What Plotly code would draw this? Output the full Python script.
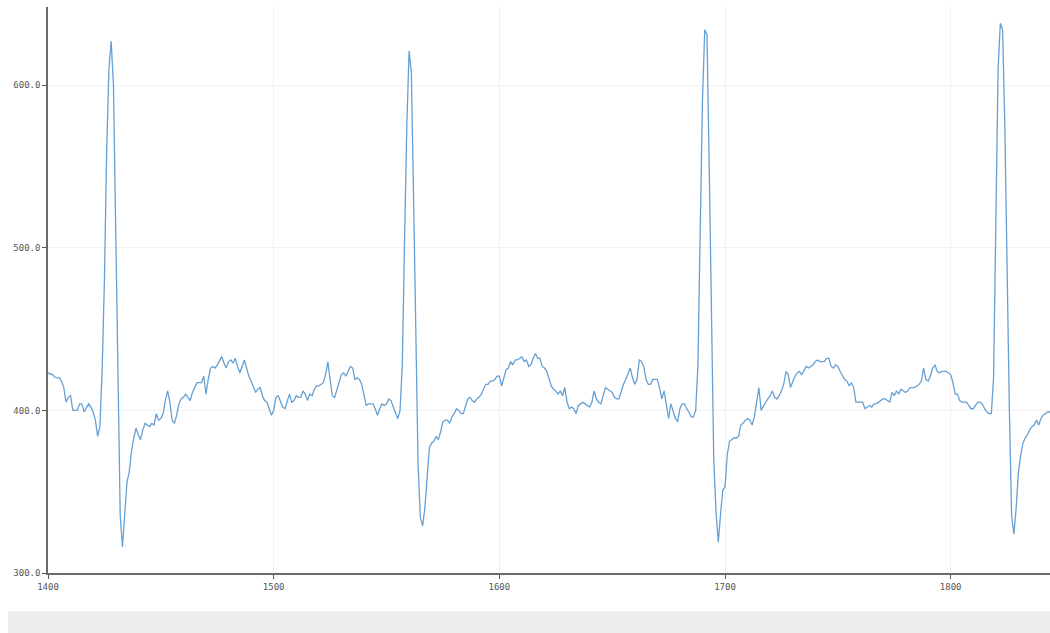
import plotly.graph_objects as go

# Sample index of the signal window
start_index = 1400

# Signal amplitude, one value per sample (1400 .. 1844)
signal = [
    423, 422.5, 422, 420.5, 420, 420, 418, 414, 405, 408,   # 1400
    409, 400, 400, 400, 404, 404, 399, 402, 404, 402,       # 1410
    399, 394, 384, 390, 425, 480, 560, 610, 627, 600,       # 1420
    510, 400, 335, 316, 335, 356, 362, 375, 383, 389,       # 1430
    385, 382, 388, 392, 391, 390, 392, 391, 398, 394,       # 1440
    395, 398, 406, 412, 405, 394, 392, 397, 404, 407,       # 1450
    408, 410, 408, 406, 411, 414, 417, 417, 417, 421,       # 1460
    410, 419, 426, 427, 426, 428, 431, 433, 429, 426,       # 1470
    430, 431, 429, 432, 427, 423, 427, 431, 426, 421,       # 1480
    418, 414, 411, 413, 414, 409, 406, 405, 401, 397,       # 1490
    400, 408, 409, 405, 402, 401, 406, 410, 405, 406,       # 1500
    409, 408, 408, 412, 410, 406, 410, 409, 413, 415,       # 1510
    415, 416, 417, 422, 430, 419, 409, 408, 413, 417,       # 1520
    422, 423, 421, 424, 427, 426, 419, 420, 419, 416,       # 1530
    410, 403, 404, 404, 404, 401, 397, 401, 404, 403,       # 1540
    404, 407, 406, 402, 398, 395, 400, 428, 505, 575,       # 1550
    621, 608, 530, 440, 366, 334, 329, 340, 360, 377,       # 1560
    380, 381, 384, 382, 387, 393, 394, 394, 392, 396,       # 1570
    398, 401, 400, 398, 398, 403, 407, 408, 406, 405,       # 1580
    407, 408, 410, 413, 416, 416, 418, 418, 419, 421,       # 1590
    421, 415, 420, 425, 426, 430, 428, 431, 431, 432,       # 1600
    433, 430, 431, 427, 428, 432, 435, 432, 432, 427,       # 1610
    426, 424, 419, 415, 413, 412, 410, 412, 409, 414,       # 1620
    405, 401, 402, 401, 398, 403, 404, 405, 404, 403,       # 1630
    402, 405, 412, 407, 405, 404, 409, 414, 413, 412,       # 1640
    411, 408, 407, 407, 412, 416, 419, 423, 426, 420,       # 1650
    416, 419, 431, 430, 427, 419, 416, 416, 419, 419,       # 1660
    419, 414, 407, 412, 404, 395, 404, 399, 395, 393,       # 1670
    401, 404, 404, 401, 399, 396, 396, 400, 428, 510,       # 1680
    590, 634, 631, 550, 465, 370, 338, 319, 336, 351,       # 1690
    353, 373, 381, 382, 383, 383, 384, 391, 392, 394,       # 1700
    395, 394, 391, 396, 404, 414, 400, 403, 405, 407,       # 1710
    409, 412, 408, 407, 409, 412, 416, 424, 422, 414,       # 1720
    418, 421, 423, 424, 422, 425, 427, 426, 427, 428,       # 1730
    430, 431, 430, 430, 430, 432, 432, 427, 426, 428,       # 1740
    427, 424, 421, 419, 418, 415, 417, 414, 405, 405,       # 1750
    405, 405, 401, 402, 403, 402, 404, 404, 405, 406,       # 1760
    407, 407, 406, 405, 411, 409, 412, 410, 413, 412,       # 1770
    411, 412, 414, 414, 414, 415, 416, 418, 426, 419,       # 1780
    418, 421, 426, 428, 424, 423, 424, 424, 424, 423,       # 1790
    422, 417, 410, 410, 406, 405, 405, 405, 403, 401,       # 1800
    401, 403, 405, 405, 404, 401, 399, 398, 398, 420,       # 1810
    520, 610, 638, 634, 574, 480, 400, 335, 324, 340,       # 1820
    362, 372, 380, 383, 385, 388, 390, 391, 394, 391,       # 1830
    395, 397, 398, 399, 399,                                # 1840
]
sample = [start_index + i for i in range(len(signal))]

x_ticks = [1400, 1500, 1600, 1700, 1800]
y_ticks = [300, 400, 500, 600]

fig = go.Figure()
fig.add_trace(go.Scatter(
    x=sample, y=signal, mode="lines",
    line=dict(color="rgb(102,160,212)", width=1.3),
    hoverinfo="x+y", showlegend=False,
))

tick_font = dict(family="DejaVu Sans Mono", size=9, color="#555555")
axis_common = dict(
    showgrid=True, gridcolor="#f1f1f1", gridwidth=1,
    zeroline=False, showline=True, linecolor="#6b6b6b", linewidth=1.5,
    ticks="outside", ticklen=4, tickcolor="#555555", tickwidth=1,
    tickfont=tick_font,
)
fig.update_xaxes(range=[1400, 1844], tickvals=x_ticks,
                 ticktext=[str(v) for v in x_ticks], **axis_common)
fig.update_yaxes(range=[300, 648], tickvals=y_ticks,
                 ticktext=[f"{v:.1f}" for v in y_ticks], **axis_common)

# light panel strip below the chart
fig.add_shape(type="rect", xref="paper", yref="paper",
              x0=-0.04, x1=1.0, y0=-0.106, y1=-0.067,
              fillcolor="#eeeeee", line=dict(width=0), layer="below")

fig.update_layout(
    width=1050, height=633,
    margin=dict(l=48, r=0, t=7, b=60),
    plot_bgcolor="white", paper_bgcolor="white",
)

fig.write_html("out.html")
